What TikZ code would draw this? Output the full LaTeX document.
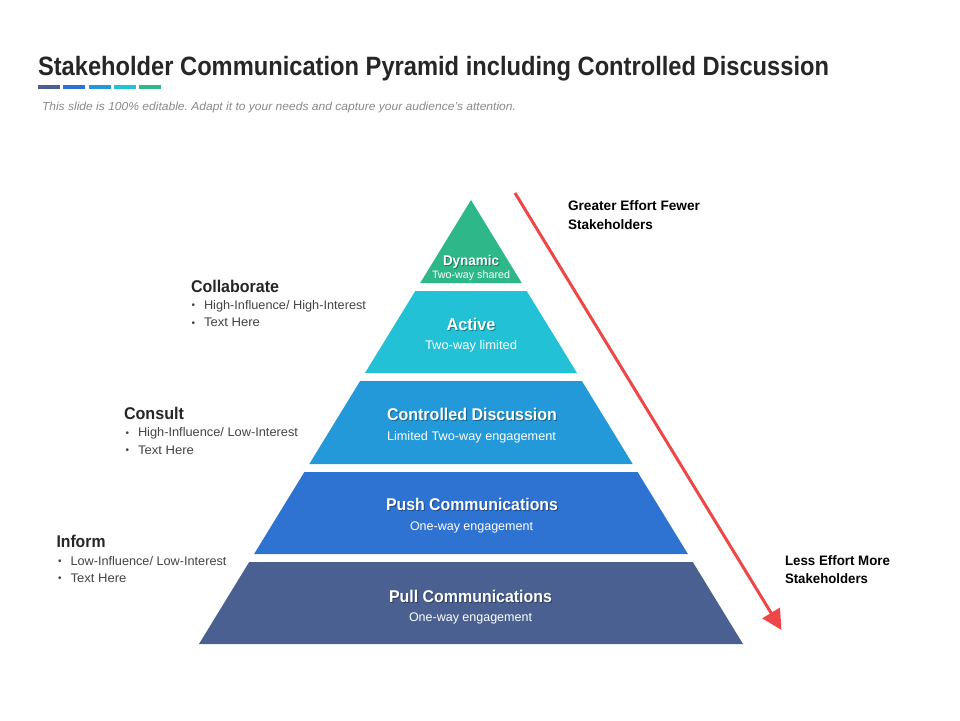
\documentclass[tikz,border=0pt]{standalone}
\usepackage{fontspec}
\usepackage{graphicx}
\setmainfont{Liberation Sans}
\usetikzlibrary{arrows.meta}
\definecolor{cnavy}{HTML}{4A6091}
\definecolor{cblue}{HTML}{2E72D2}
\definecolor{cmid}{HTML}{2399D9}
\definecolor{ccyan}{HTML}{22C1D6}
\definecolor{cgreen}{HTML}{2EB88A}
\definecolor{cred}{HTML}{EF4747}
\definecolor{cdark}{HTML}{262626}
\definecolor{cbody}{HTML}{444444}
\definecolor{csub}{HTML}{8A8A8A}
\newcommand\fw[2]{\resizebox{#1pt}{\height}{#2}}
\newcommand\plabel[5]{%
  \node[plab,text=black,opacity=0.35] at (#2+1,#3+1) {\fw{#4}{#5}};
  \node[plab] (#1) at (#2,#3) {\fw{#4}{#5}};}
\frenchspacing
\begin{document}
\begin{tikzpicture}[x=1pt,y=-1pt,
  every node/.style={inner sep=0pt,outer sep=0pt},
  plab/.style={anchor=base,text=white,font=\fontsize{17}{17}\selectfont\bfseries},
  psub/.style={anchor=base,text=white,font=\fontsize{12.5}{12.5}\selectfont},
  head/.style={anchor=base west,text=cdark,font=\fontsize{17}{17}\selectfont\bfseries},
  bul/.style={anchor=base west,text=cbody,font=\fontsize{10}{10}\selectfont},
  btxt/.style={anchor=base west,text=cbody,font=\fontsize{12.5}{12.5}\selectfont},
  rlab/.style={anchor=base west,text=black,font=\fontsize{13.7}{13.7}\selectfont\bfseries},
  bar/.style={minimum width=22pt,minimum height=4pt,anchor=north west}]
\path[use as bounding box] (0,0) rectangle (960,720);
\fill[white] (0,0) rectangle (960,720);
% title
\node[anchor=base west,text=cdark,font=\fontsize{26.5}{26.5}\selectfont\bfseries] (title) at (38,75)
  {\fw{791}{Stakeholder Communication Pyramid including Controlled Discussion}};
\node[bar,fill=cnavy] (b1) at (38,85) {};
\node[bar,fill=cblue] (b2) at (63.3,85) {};
\node[bar,fill=cmid] (b3) at (88.6,85) {};
\node[bar,fill=ccyan] (b4) at (113.9,85) {};
\node[bar,fill=cgreen] (b5) at (139.2,85) {};
\node[anchor=base west,text=csub,font=\fontsize{11.6}{11.6}\selectfont\itshape] (subtitle) at (42,110)
  {\fw{474}{This slide is 100\% editable. Adapt it to your needs and capture your audience's attention.}};
% pyramid
\fill[cgreen] (471,200) -- (521.8,283) -- (420.2,283) -- cycle;
\fill[ccyan] (415.3,291) -- (526.7,291) -- (577,373) -- (365,373) -- cycle;
\fill[cmid] (360.1,381) -- (581.9,381) -- (632.7,464) -- (309.3,464) -- cycle;
\fill[cblue] (304.4,472) -- (637.6,472) -- (687.9,554) -- (254.1,554) -- cycle;
\fill[cnavy] (249.2,562) -- (692.8,562) -- (743,644) -- (199,644) -- cycle;
% pyramid labels
\begin{scope}[plab/.append style={font=\fontsize{14}{14}\selectfont\bfseries}]
\plabel{dyn}{471}{265}{56}{Dynamic}
\end{scope}
\node[psub,font=\fontsize{10.7}{10.7}\selectfont] (dyns) at (471,278.5) {\fw{78}{Two-way shared}};
\plabel{act}{471}{330}{49}{Active}
\node[psub] (acts) at (471,349) {\fw{92}{Two-way limited}};
\plabel{con}{472}{420}{170}{Controlled Discussion}
\node[psub] (cons) at (471.5,440) {\fw{169}{Limited Two-way engagement}};
\plabel{push}{472}{510.7}{172}{Push Communications}
\node[psub] (pushs) at (471.5,530.7) {\fw{123}{One-way engagement}};
\plabel{pull}{470.5}{602.7}{163}{Pull Communications}
\node[psub] (pulls) at (470.5,621.7) {\fw{123}{One-way engagement}};
% left labels
\node[head] (collab) at (191,292) {\fw{88}{Collaborate}};
\node[bul] (cb1) at (191.5,308.5) {•};
\node[btxt] (ct1) at (204,309) {\fw{162}{High-Influence/ High-Interest}};
\node[bul] (cb2) at (191.5,326) {•};
\node[btxt] (ct2) at (204,326.5) {\fw{56}{Text Here}};
\node[head] (consult) at (124,419) {\fw{60}{Consult}};
\node[bul] (sb1) at (125.5,436) {•};
\node[btxt] (st1) at (138,436.5) {\fw{160}{High-Influence/ Low-Interest}};
\node[bul] (sb2) at (125.5,453.5) {•};
\node[btxt] (st2) at (138,454) {\fw{56}{Text Here}};
\node[head] (inform) at (56.5,547) {\fw{49}{Inform}};
\node[bul] (ib1) at (58,564.5) {•};
\node[btxt] (it1) at (70.5,565) {\fw{156}{Low-Influence/ Low-Interest}};
\node[bul] (ib2) at (58,581.5) {•};
\node[btxt] (it2) at (70.5,582) {\fw{56}{Text Here}};
% right labels
\node[rlab] (g1) at (568,210.7) {\fw{132}{Greater Effort Fewer}};
\node[rlab] (g2) at (568,229.3) {\fw{85}{Stakeholders}};
\node[rlab] (l1) at (785,565) {\fw{105}{Less Effort More}};
\node[rlab] (l2) at (785,583.5) {\fw{83}{Stakeholders}};
% arrow
\coordinate (as) at (515,193);
\coordinate (ae) at (781.5,630);
\draw[cred,line width=3pt,-{Triangle[length=20pt,width=20pt]}] (as) -- (ae);
\end{tikzpicture}
\end{document}
